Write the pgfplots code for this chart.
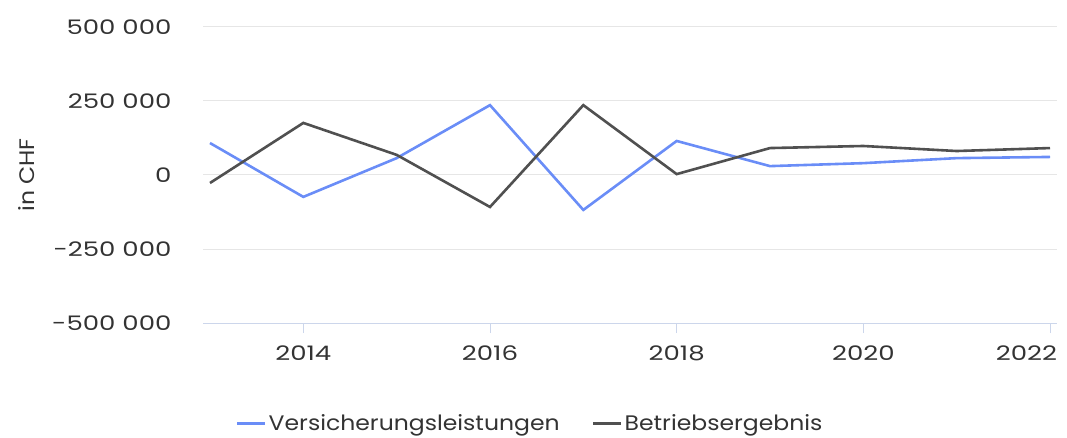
\documentclass[border=0pt]{standalone}
\usepackage{pgfplots}
\pgfplotsset{compat=1.18}
\usepackage{fontspec}
\setmainfont[FakeStretch=1.12]{Poppins}
\newfontfamily\tickfont[FakeStretch=1.3]{Poppins}
\definecolor{vblue}{HTML}{6A8DF7}
\definecolor{bgray}{HTML}{505050}
\definecolor{gridc}{HTML}{E6E6E6}
\definecolor{axc}{HTML}{CCD6EB}
\definecolor{txt}{HTML}{333333}
\begin{document}
\begin{tikzpicture}[x=1pt,y=1pt]
\path[use as bounding box] (0,0) rectangle (1067,437);
\begin{axis}[
  at={(203pt,114pt)}, anchor=south west,
  scale only axis, width=854pt, height=296pt,
  xmin=2012.925, xmax=2022.075,
  ymin=-500000, ymax=500000,
  scaled y ticks=false,
  xtick={2014,2016,2018,2020,2022},
  xticklabels={2014,2016,2018,2020,\makebox[0pt][r]{2022\hspace{-7pt}}},
  ytick={-500000,-250000,0,250000,500000},
  yticklabels={-500 000,-250 000,0,250 000,500 000},
  ymajorgrids, grid style={gridc, line width=1pt},
  axis x line*=bottom, axis y line*=left,
  y axis line style={draw=none},
  ytick style={draw=none},
  x axis line style={axc, line width=1pt, -},
  xtick style={axc, line width=1pt},
  major tick length=10pt,
  xtick align=outside,
  tick label style={font=\tickfont\fontsize{20}{22}\selectfont, text=txt},
  xticklabel style={yshift=-9pt},
  yticklabel style={xshift=-28pt},
  ylabel={in CHF},
  every axis y label/.style={at={(-176pt,148pt)}, rotate=90, anchor=center,
    font=\fontsize{21}{24}\selectfont, text=txt},
  legend columns=2,
  legend style={draw=none, fill=none, at={(0.383,-0.338)}, anchor=center,
    font=\fontsize{21}{24}\selectfont, text=txt,
    /tikz/every even column/.append style={column sep=30pt}},
  legend image code/.code={\draw[#1, line width=3pt] (0pt,0pt) -- (28pt,0pt);},
  clip=false,
]
\addplot[vblue, line width=2.6pt] coordinates {
(2013,108000) (2014,-74000) (2015,57000) (2016,236000) (2017,-118000)
(2018,115000) (2019,30000) (2020,40000) (2021,57000) (2022,61000)};
\addlegendentry{Versicherungsleistungen}
\addplot[bgray, line width=2.6pt] coordinates {
(2013,-27000) (2014,176000) (2015,68000) (2016,-108000) (2017,236000)
(2018,3000) (2019,91000) (2020,98000) (2021,81000) (2022,91000)};
\addlegendentry{Betriebsergebnis}
\end{axis}
\end{tikzpicture}
\end{document}
